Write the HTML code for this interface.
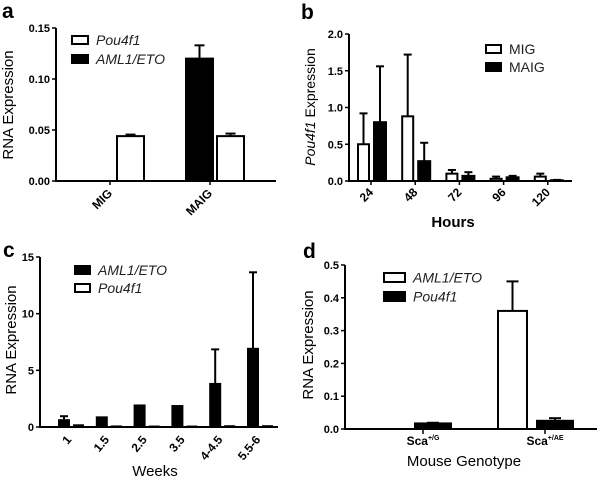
<!DOCTYPE html>
<html><head><meta charset="utf-8"><style>
html,body{margin:0;padding:0;background:#fff}
svg{display:block;font-family:"Liberation Sans",Arial,sans-serif}
</style></head><body>
<svg id="fig" width="600" height="480" viewBox="0 0 600 480" xmlns="http://www.w3.org/2000/svg">
<rect width="600" height="480" fill="#fff"/>
<text x="2" y="18" font-size="21" font-weight="bold">a</text>
<text x="301" y="19" font-size="21" font-weight="bold">b</text>
<text x="3" y="257" font-size="21" font-weight="bold">c</text>
<text x="303" y="258" font-size="21" font-weight="bold">d</text>
</svg>
<script>
// Panel a
const aCats = ["MIG", "MAIG"];
const aPou = [0.044, 0.044];
const aPouErr = [0.0455, 0.0465];
const aAml = [0, 0.12];
const aAmlErr = [0, 0.133];
const aTicks = [0, 0.05, 0.10, 0.15];
const aTickLabels = ["0.00", "0.05", "0.10", "0.15"];
// Panel b
const bCats = ["24", "48", "72", "96", "120"];
const bMig = [0.5, 0.88, 0.1, 0.03, 0.06];
const bMigErr = [0.92, 1.72, 0.15, 0.06, 0.1];
const bMaig = [0.8, 0.27, 0.07, 0.05, 0.01];
const bMaigErr = [1.56, 0.52, 0.12, 0.07, 0.015];
const bTicks = [0, 0.5, 1.0, 1.5, 2.0];
const bTickLabels = ["0.0", "0.5", "1.0", "1.5", "2.0"];
// Panel c
const cCats = ["1", "1.5", "2.5", "3.5", "4-4.5", "5.5-6"];
const cAml = [0.6, 0.85, 1.9, 1.85, 3.8, 6.9];
const cAmlErr = [0.95, 0.85, 1.9, 1.85, 6.85, 13.65];
const cPou = [0.15, 0.05, 0.04, 0.04, 0.07, 0.07];
const cTicks = [0, 5, 10, 15];
const cTickLabels = ["0", "5", "10", "15"];
// Panel d
const dCats = ["Sca", "Sca"];
const dSup = ["+/G", "+/AE"];
const dAml = [0, 0.36];
const dAmlErr = [0, 0.45];
const dPou = [0.017, 0.025];
const dPouErr = [0.019, 0.033];
const dTicks = [0, 0.1, 0.2, 0.3, 0.4, 0.5];
const dTickLabels = ["0.0", "0.1", "0.2", "0.3", "0.4", "0.5"];

const NS = "http://www.w3.org/2000/svg";
const svg = document.getElementById("fig");
function mk(tag, attrs, parent) {
  const e = document.createElementNS(NS, tag);
  for (const k in attrs) e.setAttribute(k, attrs[k]);
  (parent || svg).appendChild(e);
  return e;
}
function axes(g, x0, x1, y0, y1, ymax, ticks, labels, name) {
  const y = v => y0 - (v / ymax) * (y0 - y1);
  const ax = mk("line", {x1: x0, y1: y1, x2: x0, y2: y0 + 1, stroke: "#000", "stroke-width": 2}, g);
  
  
  const bx = mk("line", {x1: x0 - 1, y1: y0, x2: x1, y2: y0, stroke: "#000", "stroke-width": 2}, g);
  
  
  ticks.forEach((t, i) => {
    mk("line", {x1: x0 - 4, y1: y(t), x2: x0, y2: y(t), stroke: "#000", "stroke-width": 1.5}, g);
    const tx = mk("text", {x: x0 - 6, y: y(t) + 4, "font-size": 11, "font-weight": "bold", "text-anchor": "end"}, g);
    tx.textContent = labels[i];
    
    
  });
  return y;
}
function bar(g, x, w, v, y, fill, name) {
  const b = mk("rect", {x: x, y: y(v), width: w, height: Math.max(0, y(0) - y(v)), fill: fill, stroke: "#000", "stroke-width": 2}, g);
  
  
}
function err(g, cx, v, e, y, cap) {
  if (e <= v) return;
  mk("line", {x1: cx, y1: y(v), x2: cx, y2: y(e), stroke: "#000", "stroke-width": 2}, g);
  mk("line", {x1: cx - cap, y1: y(e), x2: cx + cap, y2: y(e), stroke: "#000", "stroke-width": 2}, g);
}
function legend(g, x, y, w, h, fill, label, italic, name) {
  const r = mk("rect", {x: x, y: y, width: w, height: h, fill: fill, stroke: "#000", "stroke-width": 2}, g);
  
  
  const t = mk("text", {x: x + w + 8, y: y + h / 2 + 5, "font-size": 14, fill: "#222", "font-style": italic ? "italic" : "normal"}, g);
  t.textContent = label;
  
  
}
function ytitle(g, cx, cy, html, name, size) {
  const t = mk("text", {x: 0, y: 0, "font-size": size || 15, "text-anchor": "middle", transform: `translate(${cx},${cy}) rotate(-90)`}, g);
  t.innerHTML = html;
  
  
}

// ---- Panel a
{
  const g = mk("g", {});
  
  
  const y = axes(g, 56, 276, 181, 28, 0.15, aTicks, aTickLabels, "panel-a");
  const centers = [110, 210];
  aCats.forEach((c, i) => {
    const cx = centers[i];
    mk("line", {x1: cx, y1: 181, x2: cx, y2: 185, stroke: "#000", "stroke-width": 1.5}, g);
    if (aAml[i] > 0) { bar(g, cx - 24, 27, aAml[i], y, "#000", "bar-aml-" + c); err(g, cx - 10.5, aAml[i], aAmlErr[i], y, 5); }
    bar(g, cx + 7, 27, aPou[i], y, "#fff", "bar-pou-" + c);
    err(g, cx + 20.5, aPou[i], aPouErr[i], y, 5);
    const t = mk("text", {x: 0, y: 0, "font-size": 12, "font-weight": "bold", "text-anchor": "end", transform: `translate(${cx + 3},${194}) rotate(-45)`}, g);
    t.textContent = c;
    
    
  });
  legend(g, 72, 36, 16, 8, "#fff", "Pou4f1", true, "legend-a-pou4f1");
  legend(g, 72, 55, 16, 8, "#000", "AML1/ETO", true, "legend-a-aml1eto");
  ytitle(g, 13, 105, "RNA Expression", "panel-a-y-axis-title");
}
// ---- Panel b
{
  const g = mk("g", {});
  
  
  const y = axes(g, 349, 572, 181, 34, 2.0, bTicks, bTickLabels, "panel-b");
  bCats.forEach((c, i) => {
    const cx = 371 + i * 44.2;
    mk("line", {x1: cx, y1: 181, x2: cx, y2: 185, stroke: "#000", "stroke-width": 1.5}, g);
    bar(g, cx - 13, 11, bMig[i], y, "#fff", "bar-mig-" + c);
    err(g, cx - 7.5, bMig[i], bMigErr[i], y, 4);
    bar(g, cx + 3, 12, bMaig[i], y, "#000", "bar-maig-" + c);
    err(g, cx + 9, bMaig[i], bMaigErr[i], y, 4);
    const t = mk("text", {x: 0, y: 0, "font-size": 12, "font-weight": "bold", "text-anchor": "end", transform: `translate(${cx + 3},${193}) rotate(-45)`}, g);
    t.textContent = c;
    
    
  });
  legend(g, 486, 45, 15, 8, "#fff", "MIG", false, "legend-b-mig");
  legend(g, 486, 63, 15, 8, "#000", "MAIG", false, "legend-b-maig");
  ytitle(g, 315, 107, "<tspan font-style='italic'>Pou4f1</tspan> Expression", "panel-b-y-axis-title", 14);
  const xt = mk("text", {x: 453, y: 227, "font-size": 15, "font-weight": "bold", "text-anchor": "middle"}, g);
  xt.textContent = "Hours";
  
  
}
// ---- Panel c
{
  const g = mk("g", {});
  
  
  const y = axes(g, 40, 278, 427, 257, 15, cTicks, cTickLabels, "panel-c");
  cCats.forEach((c, i) => {
    const cx = 71 + i * 37.8;
    bar(g, cx - 12, 10, cAml[i], y, "#000", "bar-aml-" + c);
    err(g, cx - 7, cAml[i], cAmlErr[i], y, 4);
    bar(g, cx + 3, 9, cPou[i], y, "#fff", "bar-pou-" + c);
    const t = mk("text", {x: 0, y: 0, "font-size": 12, "font-weight": "bold", "text-anchor": "end", transform: `translate(${cx + 1},${440}) rotate(-50)`}, g);
    t.textContent = c;
    
    
  });
  legend(g, 75, 266, 15, 8, "#000", "AML1/ETO", true, "legend-c-aml1eto");
  legend(g, 75, 284, 15, 8, "#fff", "Pou4f1", true, "legend-c-pou4f1");
  ytitle(g, 16, 340, "RNA Expression", "panel-c-y-axis-title");
  const xt = mk("text", {x: 155, y: 476, "font-size": 15, "text-anchor": "middle"}, g);
  xt.textContent = "Weeks";
  
  
}
// ---- Panel d
{
  const g = mk("g", {});
  
  
  const y = axes(g, 345, 597, 429, 265, 0.5, dTicks, dTickLabels, "panel-d");
  const centers = [423, 545];
  dCats.forEach((c, i) => {
    const cx = centers[i];
    mk("line", {x1: cx, y1: 429, x2: cx, y2: 434, stroke: "#000", "stroke-width": 1.5}, g);
    if (dAml[i] > 0) { bar(g, cx - 47, 29, dAml[i], y, "#fff", "bar-aml-" + dSup[i]); err(g, cx - 32.5, dAml[i], dAmlErr[i], y, 6); }
    bar(g, cx - 8, 36, dPou[i], y, "#000", "bar-pou-" + dSup[i]);
    err(g, cx + 10, dPou[i], dPouErr[i], y, 6);
    const t = mk("text", {x: cx, y: 445, "font-size": 12, "font-weight": "bold", "text-anchor": "middle"}, g);
    t.innerHTML = c + "<tspan font-size='7' dy='-5'>" + dSup[i] + "</tspan>";
    
    
  });
  legend(g, 384, 273, 21, 9, "#fff", "AML1/ETO", true, "legend-d-aml1eto");
  legend(g, 384, 292, 21, 9, "#000", "Pou4f1", true, "legend-d-pou4f1");
  ytitle(g, 313, 345, "RNA Expression", "panel-d-y-axis-title");
  const xt = mk("text", {x: 464, y: 466, "font-size": 15, "text-anchor": "middle"}, g);
  xt.textContent = "Mouse Genotype";
  
  
}
</script>
</body></html>
